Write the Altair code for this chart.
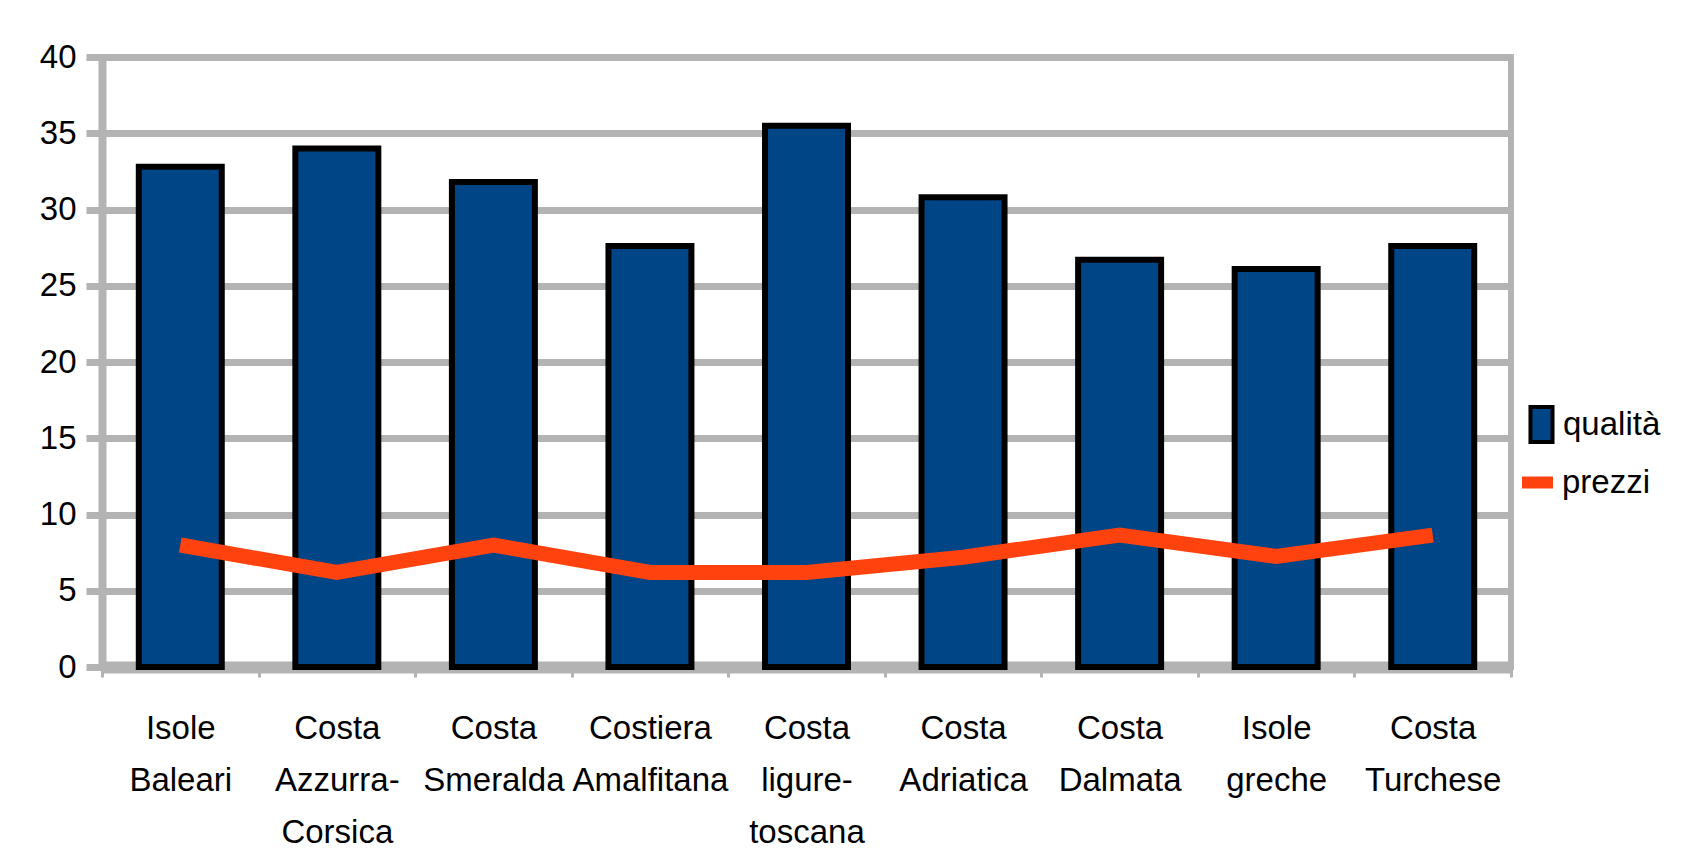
import altair as alt
import pandas as pd

categories = ["Isole Baleari", "Costa Azzurra-Corsica", "Costa Smeralda", "Costiera Amalfitana",
              "Costa ligure-toscana", "Costa Adriatica", "Costa Dalmata", "Isole greche", "Costa Turchese"]
qualita = [32.8, 34.0, 31.8, 27.6, 35.5, 30.8, 26.7, 26.1, 27.6]
prezzi = [8.0, 6.2, 8.0, 6.2, 6.2, 7.2, 8.65, 7.25, 8.65]
y_ticks = [0, 5, 10, 15, 20, 25, 30, 35, 40]

df = pd.DataFrame({"cat": categories, "qualita": qualita, "prezzi": prezzi})

FONT = "Liberation Sans, Arial, sans-serif"
FS = 33
GRAY = "#b3b3b3"
BLUE = "#004586"
ORANGE = "#ff420e"

x_enc = alt.X(
    "cat:N", sort=categories, title=None,
    scale=alt.Scale(paddingInner=0, paddingOuter=0),
    axis=alt.Axis(
        labelExpr="split(replace(datum.label, '-', '- '), ' ')",
        labelAngle=0, labelFont=FONT, labelFontSize=FS, labelColor="black",
        labelLineHeight=52, labelPadding=35, labelLimit=400,
        tickBand="extent", tickSize=10, tickWidth=3, tickColor=GRAY,
        domainColor=GRAY, domainWidth=12, grid=False,
    ),
)

y_axis = alt.Axis(
    values=y_ticks, labelFont=FONT, labelFontSize=FS, labelColor="black",
    labelPadding=10, tickSize=16, tickWidth=7, tickColor=GRAY,
    domainColor=GRAY, domainWidth=8, gridColor=GRAY, gridWidth=7, gridOpacity=1,
)

base = alt.Chart(df).transform_calculate(sq="'qualità'", sp="'prezzi'")

bars = base.mark_bar(width={"band": 0.53}, stroke="black", strokeWidth=6).encode(
    x=x_enc,
    y=alt.Y("qualita:Q", title=None, scale=alt.Scale(domain=[0, 40], nice=False), axis=y_axis),
    fill=alt.Fill("sq:N", title=None,
                  scale=alt.Scale(domain=["qualità"], range=[BLUE]),
                  legend=alt.Legend(orient="none", legendX=1420, legendY=348,
                                    symbolType="M-0.63,-1L0.63,-1L0.63,1L-0.63,1Z",
                                    symbolSize=1225, symbolStrokeColor="black",
                                    symbolStrokeWidth=4, symbolOpacity=1,
                                    labelFont=FONT, labelFontSize=FS, labelColor="black",
                                    labelOffset=2)),
)

line = base.mark_line(strokeWidth=15, strokeJoin="miter", strokeCap="butt").encode(
    x=x_enc,
    y=alt.Y("prezzi:Q"),
    stroke=alt.Stroke("sp:N", title=None,
                      scale=alt.Scale(domain=["prezzi"], range=[ORANGE]),
                      legend=alt.Legend(orient="none", legendX=1414, legendY=404,
                                        symbolType="stroke", symbolSize=961,
                                        symbolStrokeWidth=12,
                                        labelFont=FONT, labelFontSize=FS, labelColor="black",
                                        labelOffset=3)),
)

chart = alt.layer(bars, line).properties(
    width=1409, height=610,
    autosize=alt.AutoSizeParams(type="none"),
    padding={"left": 94, "top": 49, "right": 164, "bottom": 184},
    background="white",
).configure_view(stroke=GRAY, strokeWidth=6)

chart.save("out.html", embed_options={"renderer": "svg", "actions": False})
